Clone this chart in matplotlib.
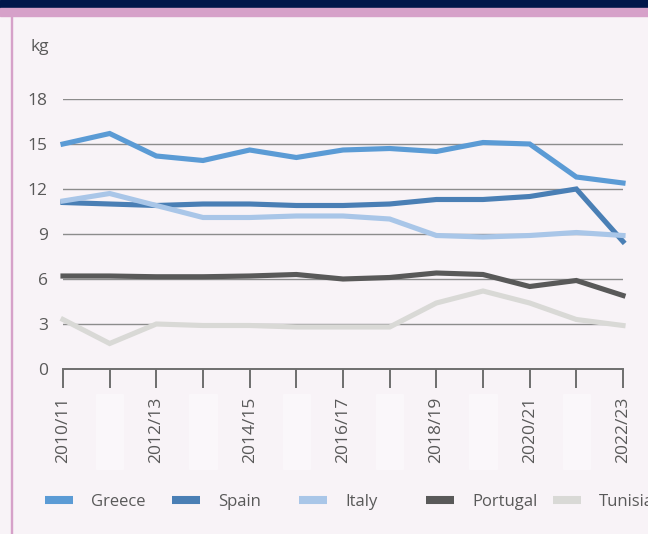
import numpy as np
import matplotlib.pyplot as plt
from matplotlib.patches import Rectangle
from matplotlib.lines import Line2D

seasons = ["2010/11", "2011/12", "2012/13", "2013/14", "2014/15", "2015/16", "2016/17",
           "2017/18", "2018/19", "2019/20", "2020/21", "2021/22", "2022/23"]
greece = [15.0, 15.7, 14.2, 13.9, 14.6, 14.1, 14.6, 14.7, 14.5, 15.1, 15.0, 12.8, 12.4]
spain = [11.1, 11.0, 10.9, 11.0, 11.0, 10.9, 10.9, 11.0, 11.3, 11.3, 11.5, 12.0, 8.5]
italy = [11.2, 11.7, 10.9, 10.1, 10.1, 10.2, 10.2, 10.0, 8.9, 8.8, 8.9, 9.1, 8.9]
portugal = [6.2, 6.2, 6.15, 6.15, 6.2, 6.3, 6.0, 6.1, 6.4, 6.3, 5.5, 5.9, 4.9]
tunisia = [3.3, 1.7, 3.0, 2.9, 2.9, 2.8, 2.8, 2.8, 4.4, 5.2, 4.4, 3.3, 2.9]

names = ["Greece", "Spain", "Italy", "Portugal", "Tunisia"]
colors = ["#5b9bd5", "#4a7fb5", "#a9c6e8", "#595959", "#d9d9d6"]
series = [greece, spain, italy, portugal, tunisia]

plt.rcParams['font.family'] = ['Open Sans', 'DejaVu Sans']
txt = "#595959"
bg = "#f8f3f7"
fs = 12.5

fig = plt.figure(figsize=(6.48, 5.34), dpi=100, facecolor=bg)

# header band and frame lines
fig.patches.append(Rectangle((0, 1 - 8 / 534), 1, 8 / 534, transform=fig.transFigure,
                             color="#00174a", zorder=0))
fig.patches.append(Rectangle((0, 1 - 16 / 534), 1, 8 / 534, transform=fig.transFigure,
                             color="#d6a1c9", zorder=0))
fig.patches.append(Rectangle((10.5 / 648, 0), 1.5 / 648, 1 - 16 / 534, transform=fig.transFigure,
                             color="#d6a1c9", zorder=0))

ax = fig.add_axes([63 / 648, 1 - 369 / 534, 560 / 648, 270 / 534])
ax.set_facecolor("none")
x = np.arange(len(seasons))

for s, c, n in zip(series, colors, names):
    ax.plot(x, s, color=c, lw=3.7, label=n, clip_on=False, solid_joinstyle="miter", zorder=3)

ax.set_xlim(0, len(seasons) - 1)
ax.set_ylim(0, 18)
ax.set_yticks(np.arange(0, 19, 3))
ax.yaxis.grid(True, color="#8c8c8c", lw=1)
ax.set_axisbelow(True)
for sp in ["top", "right", "left"]:
    ax.spines[sp].set_visible(False)
ax.spines["bottom"].set_color("#6e6e6e")
ax.spines["bottom"].set_linewidth(1.4)
ax.tick_params(axis="y", length=0, pad=11, labelsize=fs, labelcolor=txt)
ax.set_xticks(x)
ax.set_xticklabels([s if i % 2 == 0 else "" for i, s in enumerate(seasons)], rotation=90)
ax.tick_params(axis="x", length=14, width=1.4, color="#6e6e6e", direction="out",
               pad=6, labelsize=fs, labelcolor=txt)

# subtle alternating bands under the axis
for i in x[1::2]:
    ax.add_patch(Rectangle((i - 0.29, -1.67), 0.58, -5.0, transform=ax.transData,
                           color="#faf7fa", clip_on=False, zorder=0))

fig.text(40 / 648, 1 - 47 / 534, "kg", ha="center", va="center", fontsize=fs, color=txt)

# legend entries with fixed spacing
for k, (n, c) in enumerate(zip(names, colors)):
    h = Line2D([], [], color=c, lw=5.8, solid_capstyle="butt")
    fig.legend([h], [n], loc="center left", bbox_to_anchor=((38 + 127 * k) / 648, 1 - 502 / 534),
               frameon=False, fontsize=12, labelcolor=txt, handlelength=1.7,
               handletextpad=1.1, borderaxespad=0, borderpad=0.4)

fig.savefig("out.png", dpi=100, facecolor=bg)
